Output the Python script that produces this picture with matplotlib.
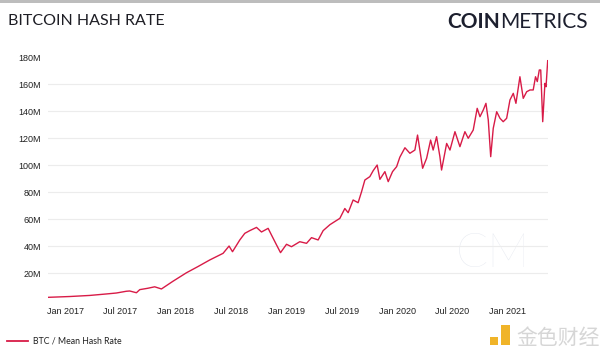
import matplotlib
matplotlib.use("Agg")
import matplotlib.pyplot as plt
from matplotlib.lines import Line2D
from matplotlib.patches import Rectangle

# decimal year, hash rate in millions (TH/s)
years = [2016.845, 2017.041, 2017.222, 2017.373, 2017.463, 2017.553, 2017.583, 2017.644,
         2017.674, 2017.746, 2017.809, 2017.870, 2017.972, 2018.096, 2018.198, 2018.307,
         2018.427, 2018.481, 2018.512, 2018.578, 2018.623, 2018.668, 2018.729, 2018.774,
         2018.834, 2018.864, 2018.910, 2018.946, 2019.000, 2019.045, 2019.120, 2019.181,
         2019.226, 2019.286, 2019.331, 2019.392, 2019.430, 2019.482, 2019.527, 2019.557,
         2019.602, 2019.647, 2019.678, 2019.708, 2019.753, 2019.783, 2019.819, 2019.844,
         2019.889, 2019.919, 2019.958, 2019.995, 2020.024, 2020.070, 2020.115, 2020.160,
         2020.184, 2020.205, 2020.230, 2020.266, 2020.302, 2020.325, 2020.356, 2020.386,
         2020.401, 2020.447, 2020.477, 2020.522, 2020.567, 2020.612, 2020.642, 2020.687,
         2020.723, 2020.748, 2020.778, 2020.802, 2020.823, 2020.845, 2020.868, 2020.899,
         2020.929, 2020.958, 2020.989, 2021.019, 2021.049, 2021.073, 2021.109, 2021.139,
         2021.170, 2021.200, 2021.229, 2021.250, 2021.266, 2021.284, 2021.297, 2021.315,
         2021.335, 2021.345, 2021.360]
hash_rate = [2.2, 2.8, 3.6, 4.7, 5.4, 6.7, 6.9, 5.6,
             7.9, 8.9, 10.0, 8.4, 14.0, 20.4, 24.9, 29.9,
             34.8, 40.2, 36.0, 44.7, 49.6, 51.6, 54.0, 50.6,
             53.3, 48.4, 41.0, 35.3, 41.5, 39.7, 43.4, 42.2,
             46.4, 44.7, 51.6, 56.0, 58.0, 60.7, 68.0, 64.9,
             74.3, 72.3, 80.4, 89.1, 91.6, 96.0, 100.2, 89.6,
             95.3, 87.9, 95.3, 99.0, 106.0, 113.0, 108.9, 111.3,
             122.4, 111.3, 97.8, 105.2, 118.7, 111.3, 121.2, 106.4,
             96.5, 116.2, 111.3, 124.9, 113.8, 124.9, 120.0, 126.1,
             142.2, 136.0, 141.0, 145.9, 133.6, 106.4, 127.4, 139.7,
             134.8, 132.3, 134.8, 148.4, 153.3, 145.9, 165.6, 149.6,
             154.5, 155.8, 155.8, 165.6, 162.0, 170.6, 170.6, 132.3,
             160.7, 158.2, 177.5]

tick_pos = [2017, 2017.5, 2018, 2018.5, 2019, 2019.5, 2020, 2020.5, 2021]
tick_labels = ["Jan 2017", "Jul 2017", "Jan 2018", "Jul 2018", "Jan 2019",
               "Jul 2019", "Jan 2020", "Jul 2020", "Jan 2021"]
y_ticks = [20, 40, 60, 80, 100, 120, 140, 160, 180]

LINE = "#d81b47"
W, H = 600, 356

fig = plt.figure(figsize=(6, 3.56), dpi=100)
ax = fig.add_axes([48 / W, 1 - 300.3 / H, (547.7 - 48) / W, (300.3 - 57.3) / H])

ax.plot(years, hash_rate, color=LINE, lw=1.0, zorder=3)
ax.set_xlim(2016.845, 2021.36)
ax.set_ylim(0, 180)

ax.set_xticks(tick_pos)
ax.set_xticklabels(tick_labels)
ax.set_yticks(y_ticks)
ax.set_yticklabels([f"{v}M" for v in y_ticks])
ax.tick_params(length=0, labelsize=6.5, colors="#222222", pad=5)
for lab in ax.get_xticklabels() + ax.get_yticklabels():
    lab.set_family("Liberation Sans")
ax.grid(axis="y", color="#ececec", lw=0.8, zorder=0)
ax.yaxis.get_gridlines()[-1].set_visible(False)
for s in ax.spines.values():
    s.set_visible(False)

# faint CM watermark inside the plot
ax.text(0.89, 0.19, "CM", transform=ax.transAxes, ha="center", va="center",
        fontsize=34, fontweight="light", family="Lato", color="#e6e9f0", zorder=1)

# top border
fig.add_artist(Rectangle((0, 1 - 2.5 / H), 1, 2.5 / H, transform=fig.transFigure,
                         color="#bdbdbd", lw=0))

fig.text(8 / W, 1 - 21 / H, "BITCOIN HASH RATE", fontsize=11.5, family="Lato",
         color="#1d1d24", va="center", ha="left")

# logo: bold COIN + regular METRICS
met = fig.text(588 / W, 1 - 22 / H, "METRICS", fontsize=15, family="Lato",
               fontweight="normal", color="#1c1f2e", va="center", ha="right")
fig.canvas.draw()
bb = met.get_window_extent()
fig.text(bb.x0 / W, 1 - 22 / H, "COIN", fontsize=15, family="Lato",
         fontweight="bold", color="#1c1f2e", va="center", ha="right")

# legend
fig.add_artist(Line2D([7 / W, 28 / W], [1 - 341 / H, 1 - 341 / H], color=LINE, lw=1.3))
fig.text(33 / W, 1 - 341 / H, "BTC / Mean Hash Rate", fontsize=6.3, family="Lato",
         color="#222222", va="center", ha="left")

# 金色财经 watermark
fig.add_artist(Rectangle((490 / W, 1 - 345 / H), 8 / W, 8 / H, transform=fig.transFigure,
                         color="#f0b429", lw=0))
fig.add_artist(Rectangle((501 / W, 1 - 345 / H), 9 / W, 20 / H, transform=fig.transFigure,
                         color="#f0b429", lw=0))
fig.text(516 / W, 1 - 338 / H, "金色财经", fontsize=15, family="Noto Sans CJK SC",
         color="#d6d6d6", va="center", ha="left")

fig.savefig("out.png", dpi=100)
